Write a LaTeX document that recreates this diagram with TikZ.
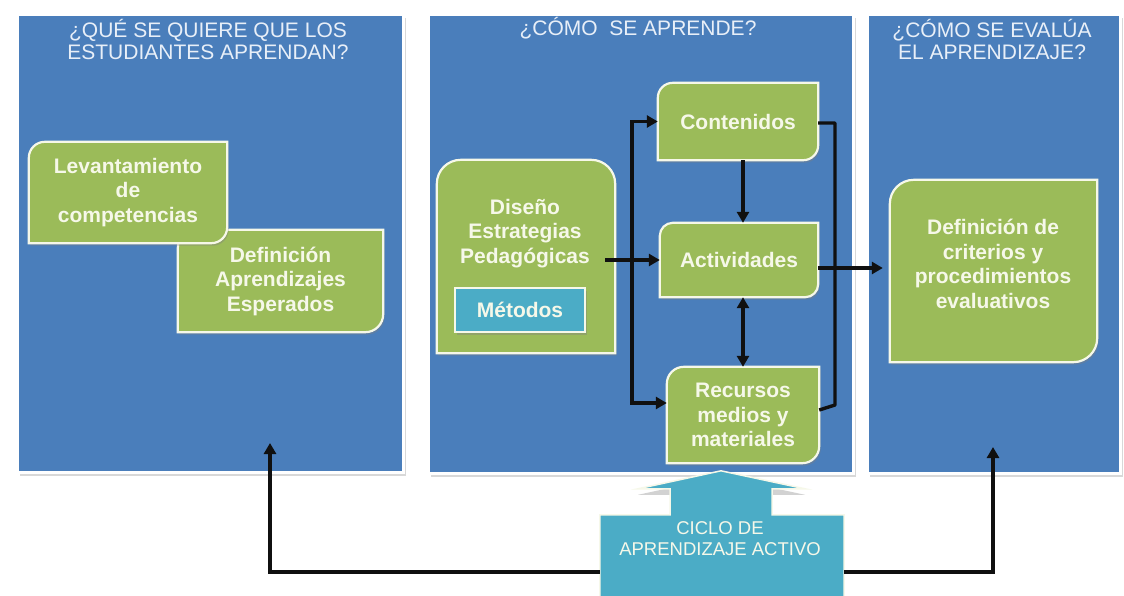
\documentclass[tikz,border=0pt]{standalone}
\usepackage{fontspec}
\setmainfont{Liberation Sans}
\usetikzlibrary{arrows.meta,shadows,calc}
\definecolor{panelblue}{HTML}{4A7EBB}
\definecolor{boxgreen}{HTML}{9BBB59}
\definecolor{boxteal}{HTML}{4BACC6}
\definecolor{cream}{HTML}{F6F8E9}
\definecolor{titlecol}{HTML}{E8EFF8}
\definecolor{arrowcol}{HTML}{101010}
\pgfdeclarelayer{back}
\pgfdeclarelayer{mid}
\pgfsetlayers{back,mid,main}
\newcommand\boxfont{\fontsize{21}{24.5}\selectfont\bfseries}
\newcommand\titlefont{\fontsize{21}{21.5}\selectfont}
\newcommand\ciclofont{\fontsize{18.5}{21}\selectfont}
\tikzset{
  panel/.style={draw=white, line width=3pt, fill=panelblue, anchor=north west, inner sep=0pt,
    drop shadow={opacity=0.3, shadow xshift=2pt, shadow yshift=-3pt}},
  titletext/.style={text=titlecol, font=\titlefont, align=center, inner sep=0pt},
  boxtext/.style={text=cream, font=\boxfont, align=center, inner sep=0pt},
  shapefill/.style={fill=#1, draw=cream, line width=2.2pt,
    drop shadow={opacity=0.4, shadow xshift=1.5pt, shadow yshift=-2.5pt}},
  conn/.style={draw=arrowcol, line width=3.4pt, -{Triangle[length=11pt,width=12pt]}},
  conntwo/.style={draw=arrowcol, line width=3.4pt, {Triangle[length=11pt,width=12pt]}-{Triangle[length=11pt,width=12pt]}},
  plainline/.style={draw=arrowcol, line width=3.4pt, line join=round},
}
% shape with rounded top-left and bottom-right corners
\newcommand\diagshape[3]{%
  \begin{pgfonlayer}{mid}
  \path[shapefill=#3]
   ([yshift=-#2]#1.north west) arc[start angle=180,end angle=90,radius=#2]
   -- (#1.north east) -- ([yshift=#2]#1.south east) arc[start angle=0,end angle=-90,radius=#2]
   -- (#1.south west) -- cycle;
  \end{pgfonlayer}}
% shape with rounded top corners
\newcommand\topshape[3]{%
  \begin{pgfonlayer}{mid}
  \path[shapefill=#3]
   ([yshift=-#2]#1.north west) arc[start angle=180,end angle=90,radius=#2]
   -- ([xshift=-#2]#1.north east) arc[start angle=90,end angle=0,radius=#2]
   -- (#1.south east) -- (#1.south west) -- cycle;
  \end{pgfonlayer}}
\begin{document}
\begin{tikzpicture}[x=1pt,y=-1pt]
\useasboundingbox (0,0) rectangle (1124,595);

% background and panels
\begin{pgfonlayer}{back}
\fill[white] (0,0) rectangle (1124,595);
\node[panel, minimum width=386pt, minimum height=458pt] (p1) at (16,13) {};
\node[panel, minimum width=425pt, minimum height=459pt] (p2) at (427,13) {};
\node[panel, minimum width=253pt, minimum height=459pt] (p3) at (866,13) {};
\end{pgfonlayer}

% titles
\node[titletext] (t1) at (208,39.5) {¿QUÉ SE QUIERE QUE LOS\\ESTUDIANTES APRENDAN?};
\node[titletext] (t2) at (638,28) {¿CÓMO \ SE APRENDE?};
\node[titletext] (t3) at (992,39.5) {¿CÓMO SE EVALÚA\\EL APRENDIZAJE?};

% left panel boxes
\node[boxtext, minimum width=205pt, minimum height=102pt] (def) at (280.5,281) {Definición\\Aprendizajes\\Esperados};
\diagshape{def}{18pt}{boxgreen}
\node[boxtext, minimum width=198pt, minimum height=101pt] (lev) at (128,192.5) {Levantamiento\\de\\competencias};
\diagshape{lev}{16pt}{boxgreen}

% middle panel boxes
\node[minimum width=178pt, minimum height=193pt, inner sep=0pt] (dis) at (526,256.5) {};
\topshape{dis}{24pt}{boxgreen}
\node[boxtext] (distx) at (525,233.5) {Diseño\\Estrategias\\Pedagógicas};
\node[boxtext, minimum width=130pt, minimum height=44pt, fill=boxteal, draw=cream, line width=2.2pt,
  drop shadow={opacity=0.4, shadow xshift=1.5pt, shadow yshift=-2.5pt}] (met) at (520,310) {Métodos};

\node[boxtext, minimum width=160pt, minimum height=77pt] (cont) at (738,121.5) {Contenidos};
\diagshape{cont}{15pt}{boxgreen}
\node[boxtext, minimum width=158pt, minimum height=74pt] (act) at (739,260) {Actividades};
\diagshape{act}{13pt}{boxgreen}
\node[boxtext, minimum width=152pt, minimum height=96pt] (rec) at (743,415) {Recursos\\medios y\\materiales};
\diagshape{rec}{17pt}{boxgreen}

% right panel box
\node[minimum width=207pt, minimum height=182pt, inner sep=0pt] (crit) at (993.5,271) {};
\diagshape{crit}{24pt}{boxgreen}
\node[boxtext] (crittx) at (993,264) {Definición de\\criterios y\\procedimientos\\evaluativos};

% ciclo callout
\node[minimum width=244pt, minimum height=82pt, inner sep=0pt] (ciclo) at (722,556) {};
\begin{pgfonlayer}{mid}
\path[fill=boxteal, draw=cream, line width=1.5pt,
  drop shadow={opacity=0.35, shadow xshift=0pt, shadow yshift=-6pt}]
  (ciclo.south west) -- (ciclo.north west)
  -- ($(ciclo.north)+(-52,0)$) -- ($(ciclo.north)+(-52,-26)$) -- ($(ciclo.north)+(-84,-26)$)
  -- ($(ciclo.north)+(-1,-44)$)
  -- ($(ciclo.north)+(83,-26)$) -- ($(ciclo.north)+(50,-26)$) -- ($(ciclo.north)+(50,0)$)
  -- (ciclo.north east) -- (ciclo.south east) -- cycle;
\end{pgfonlayer}
\node[text=cream, font=\ciclofont, align=center, inner sep=0pt] (ciclotx) at (720,538.5) {CICLO DE\\APRENDIZAJE ACTIVO};

% connectors in middle panel
\coordinate (split) at (632,260);
\draw[conn] ([xshift=-10pt]dis.east |- act.west) -- (act.west);
\draw[conn] (split) |- (cont.west);
\draw[conn] (split) |- ([yshift=12pt]rec.west);
\coordinate (rb1) at (835,123);
\coordinate (rb2) at (835,405);
\draw[plainline] ([yshift=-1.5pt]cont.east) -- (rb1) -- (rb2) -- ([yshift=5pt]rec.east);
\draw[conn] ([xshift=5pt]cont.south) -- ([xshift=5pt]cont.south |- act.north);
\draw[conntwo] ([xshift=4pt]act.south) -- ([xshift=4pt]act.south |- rec.north);
\draw[conn, shorten >=7pt] ([yshift=-8pt]act.east) -- ([yshift=-8pt]act.east -| crit.west);

% bottom feedback connectors
\coordinate (la) at (270,443);
\coordinate (ra) at (993,447);
\draw[conn] ([yshift=-16pt]ciclo.west) -| (la);
\draw[conn] ([yshift=-16pt]ciclo.east) -| (ra);
\end{tikzpicture}
\end{document}
